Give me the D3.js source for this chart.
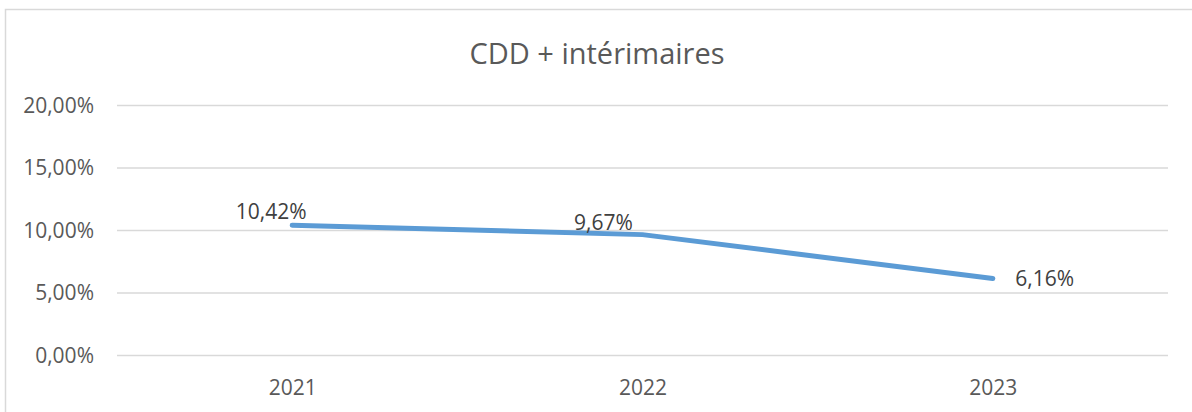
<!DOCTYPE html>
<html><head><meta charset="utf-8">
<script src="https://cdn.jsdelivr.net/npm/d3@7"></script>
<style>
html,body{margin:0;padding:0;background:#fff;}
svg{display:block;font-family:"Open Sans","Liberation Sans",sans-serif;}
</style></head>
<body>
<svg id="chart" width="1192" height="412"></svg>
<script>
const title = "CDD + intérimaires";
const categories = ["2021", "2022", "2023"];
const values = [10.42, 9.67, 6.16];
const valueLabels = ["10,42%", "9,67%", "6,16%"];
const yTicks = [0, 5, 10, 15, 20];

const svg = d3.select("#chart");
const textColor = "#595959";
const plot = {left: 117, right: 1168, top: 105.5, bottom: 355.5};

// chart border
svg.append("rect").attr("x", 5.5).attr("y", 9.5).attr("width", 1300).attr("height", 500)
  .attr("fill", "#fff").attr("stroke", "#d9d9d9").attr("stroke-width", 1.5);

svg.append("text").attr("x", 597).attr("y", 64).attr("text-anchor", "middle")
  .attr("font-size", 29).attr("fill", textColor).text(title);

const x = d3.scalePoint().domain(categories).range([plot.left, plot.right]).padding(0.5);
const y = d3.scaleLinear().domain([0, 20]).range([plot.bottom, plot.top]);

const fmt = v => d3.format(".2f")(v).replace(".", ",") + "%";

// gridlines
svg.append("g").selectAll("line").data(yTicks).join("line")
  .attr("x1", plot.left).attr("x2", plot.right)
  .attr("y1", d => y(d)).attr("y2", d => y(d))
  .attr("stroke", "#d9d9d9").attr("stroke-width", 1.5);

// y axis labels
const yAxis = svg.append("g").attr("transform", `translate(${plot.left - 23},0)`)
  .call(d3.axisLeft(y).tickValues(yTicks).tickFormat(fmt).tickSize(0).tickPadding(0));
yAxis.select(".domain").remove();
yAxis.selectAll("text").attr("font-size", 21).attr("fill", textColor)
  .attr("font-family", "Open Sans, Liberation Sans, sans-serif");

// x axis labels
const xAxis = svg.append("g").attr("transform", `translate(0,${plot.bottom + 24.5})`)
  .call(d3.axisBottom(x).tickSize(0).tickPadding(0));
xAxis.select(".domain").remove();
xAxis.selectAll("text").attr("font-size", 21).attr("fill", textColor)
  .attr("font-family", "Open Sans, Liberation Sans, sans-serif");

// line
const line = d3.line().x((d, i) => x(categories[i])).y(d => y(d));
svg.append("path").datum(values).attr("d", line)
  .attr("fill", "none").attr("stroke", "#5b9bd5").attr("stroke-width", 5)
  .attr("stroke-linecap", "round").attr("stroke-linejoin", "round");

// data labels (manually positioned offsets as in the reference)
const labelOffsets = [[-21, -6], [-39, -5], [22.5, 7.5]];
svg.append("g").selectAll("text").data(values).join("text")
  .attr("x", (d, i) => x(categories[i]) + labelOffsets[i][0])
  .attr("y", (d, i) => y(d) + labelOffsets[i][1])
  .attr("text-anchor", (d, i) => i === 2 ? "start" : "middle")
  .attr("font-size", 21).attr("fill", "#404040")
  .text((d, i) => valueLabels[i]);
</script>
</body></html>
